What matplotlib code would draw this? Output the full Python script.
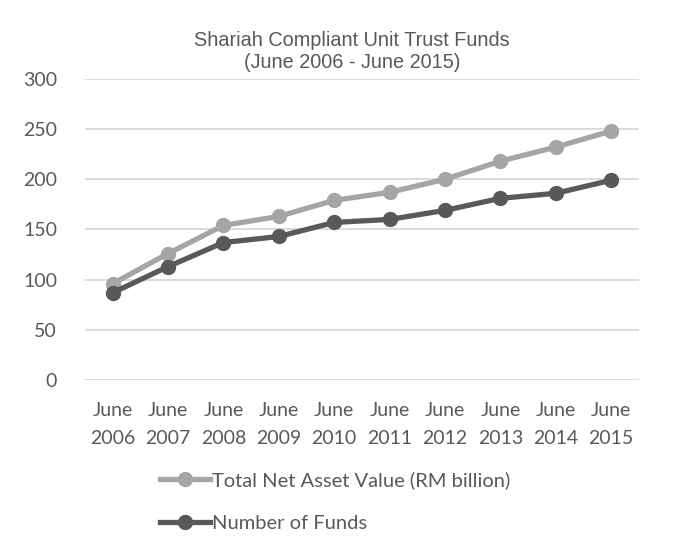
import numpy as np
import matplotlib.pyplot as plt

years = ["June\n2006", "June\n2007", "June\n2008", "June\n2009", "June\n2010",
         "June\n2011", "June\n2012", "June\n2013", "June\n2014", "June\n2015"]
nav = [96, 126, 154, 163, 179, 187, 200, 218, 232, 248]
funds = [87, 113, 137, 143, 157, 160, 169, 181, 186, 199]

txt = "#595959"
plt.rcParams['font.family'] = ['Lato', 'DejaVu Sans']

fig = plt.figure(figsize=(6.74, 5.47), dpi=100)
ax = fig.add_axes([0.126, 0.305, 0.822, 0.551])
x = np.arange(len(years))

ax.plot(x, nav, color="#A5A5A5", lw=3.8, marker="o", ms=10, label="Total Net Asset Value (RM billion)", zorder=3)
ax.plot(x, funds, color="#595959", lw=3.8, marker="o", ms=10, label="Number of Funds", zorder=3)

ax.set_xlim(-0.5, len(years) - 0.5)
ax.set_ylim(0, 300)
ax.set_yticks(range(0, 301, 50))
ax.set_xticks(x)
ax.set_xticklabels(years, linespacing=1.75)
ax.grid(axis="y", color="#D9D9D9", lw=1.3)
ax.set_axisbelow(True)
for s in ax.spines.values():
    s.set_visible(False)
ax.tick_params(length=0, labelsize=14, colors=txt, pad=16)
ax.tick_params(axis="y", pad=20)

fig.text(0.522, 0.906, "Shariah Compliant Unit Trust Funds\n(June 2006 - June 2015)",
         ha="center", va="center", fontsize=14.3, color=txt, family="Liberation Sans",
         linespacing=1.2)

fig.legend(loc="upper left", bbox_to_anchor=(0.222, 0.157), frameon=False, fontsize=14.5,
           handlelength=2.5, handletextpad=0.1, labelspacing=1.3, borderpad=0,
           labelcolor=txt)

fig.savefig("out.png", dpi=100)
